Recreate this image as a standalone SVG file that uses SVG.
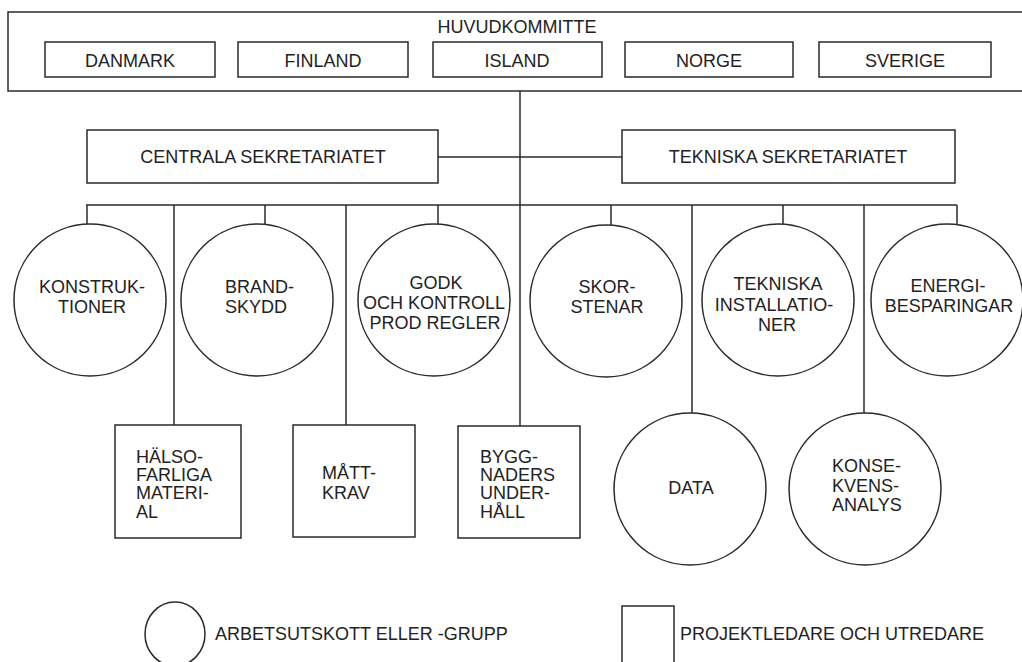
<svg xmlns="http://www.w3.org/2000/svg" width="1022" height="662" viewBox="0 0 1022 662">
<style>
.b{fill:none;stroke:#2a2a2a;stroke-width:1.5}
.c{fill:none;stroke:#2a2a2a;stroke-width:1.5}
.t{font-family:"Liberation Sans",Arial,sans-serif;font-size:18px;fill:#222}
.m{text-anchor:middle}
</style>
<rect width="1022" height="662" fill="#fff"/>
<g id="connectors" class="c">
<line x1="520" y1="91" x2="520" y2="426"/>
<line x1="438" y1="157" x2="622" y2="157"/>
<line x1="86" y1="205" x2="957" y2="205"/>
<line x1="87" y1="205" x2="87" y2="224"/>
<line x1="265" y1="205" x2="265" y2="224"/>
<line x1="438" y1="205" x2="438" y2="224"/>
<line x1="611" y1="205" x2="611" y2="225"/>
<line x1="783" y1="205" x2="783" y2="224"/>
<line x1="957" y1="205" x2="957" y2="225"/>
<line x1="174" y1="205" x2="174" y2="425"/>
<line x1="346" y1="205" x2="346" y2="425"/>
<line x1="692" y1="205" x2="692" y2="413"/>
<line x1="864" y1="205" x2="864" y2="413"/>
</g>
<g id="huvudkommitte">
<rect class="b" x="8" y="12" width="1020" height="79"/>
<text class="t m" x="517" y="33">HUVUDKOMMITTE</text>
</g>
<g id="danmark"><rect class="b" x="45" y="42" width="170" height="35"/><text class="t m" x="130" y="67">DANMARK</text></g>
<g id="finland"><rect class="b" x="238" y="42" width="170" height="35"/><text class="t m" x="323" y="67">FINLAND</text></g>
<g id="island"><rect class="b" x="433" y="42" width="169" height="35"/><text class="t m" x="517" y="67">ISLAND</text></g>
<g id="norge"><rect class="b" x="625" y="42" width="168" height="35"/><text class="t m" x="709" y="67">NORGE</text></g>
<g id="sverige"><rect class="b" x="819" y="42" width="172" height="35"/><text class="t m" x="905" y="67">SVERIGE</text></g>
<g id="centrala"><rect class="b" x="87" y="130" width="351" height="53"/><text class="t m" x="263" y="163">CENTRALA SEKRETARIATET</text></g>
<g id="tekniska-sekr"><rect class="b" x="622" y="130" width="333" height="53"/><text class="t m" x="788" y="163">TEKNISKA SEKRETARIATET</text></g>
<g id="konstruktioner"><circle class="b" cx="90" cy="300" r="76"/><text class="t m" x="92" y="293">KONSTRUK-</text><text class="t m" x="92" y="313">TIONER</text></g>
<g id="brandskydd"><circle class="b" cx="257" cy="300" r="76"/><text class="t" x="225" y="293">BRAND-</text><text class="t" x="225" y="313">SKYDD</text></g>
<g id="godk"><circle class="b" cx="434" cy="300" r="76"/><text class="t m" x="436" y="289">GODK</text><text class="t m" x="434" y="309">OCH KONTROLL</text><text class="t m" x="435" y="329">PROD REGLER</text></g>
<g id="skorstenar"><circle class="b" cx="606" cy="301" r="76"/><text class="t m" x="607" y="293">SKOR-</text><text class="t m" x="607" y="313">STENAR</text></g>
<g id="tekniska-inst"><circle class="b" cx="778" cy="300" r="76"/><text class="t m" x="778" y="290">TEKNISKA</text><text class="t m" x="774" y="311">INSTALLATIO-</text><text class="t m" x="777" y="331">NER</text></g>
<g id="energi"><circle class="b" cx="947" cy="300" r="76"/><text class="t m" x="948" y="292">ENERGI-</text><text class="t m" x="949" y="312">BESPARINGAR</text></g>
<g id="halso"><rect class="b" x="115" y="425" width="126" height="113"/><text class="t" x="136" y="463">HÄLSO-</text><text class="t" x="136" y="481">FARLIGA</text><text class="t" x="136" y="499">MATERI-</text><text class="t" x="136" y="518">AL</text></g>
<g id="mattkrav"><rect class="b" x="293" y="425" width="122" height="112"/><text class="t" x="322" y="479">MÅTT-</text><text class="t" x="322" y="499">KRAV</text></g>
<g id="byggnaders"><rect class="b" x="458" y="426" width="122" height="112"/><text class="t" x="480" y="463">BYGG-</text><text class="t" x="480" y="481">NADERS</text><text class="t" x="480" y="499">UNDER-</text><text class="t" x="480" y="518">HÅLL</text></g>
<g id="data"><circle class="b" cx="690" cy="489" r="76"/><text class="t m" x="691" y="494">DATA</text></g>
<g id="konsekvens"><circle class="b" cx="865" cy="489" r="76"/><text class="t" x="832" y="472">KONSE-</text><text class="t" x="832" y="492">KVENS-</text><text class="t" x="832" y="511">ANALYS</text></g>
<g id="legend-circle"><ellipse class="b" cx="175" cy="634" rx="30" ry="32"/><text class="t" x="215" y="640">ARBETSUTSKOTT ELLER -GRUPP</text></g>
<g id="legend-square"><rect class="b" x="622" y="606" width="52" height="58"/><text class="t" x="680" y="640">PROJEKTLEDARE OCH UTREDARE</text></g>
</svg>
